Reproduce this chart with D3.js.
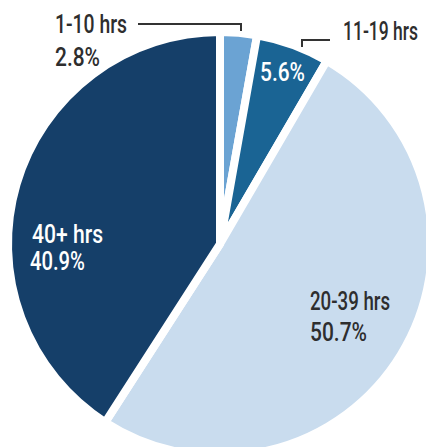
<!DOCTYPE html>
<html>
<head>
<meta charset="utf-8">
<script src="https://cdn.jsdelivr.net/npm/d3@7"></script>
<style>
  html, body { margin: 0; padding: 0; background: #fff; }
  svg { display: block; }
  text { font-family: Roboto, "Liberation Sans", sans-serif; font-weight: 500; font-size: 25.5px; }
</style>
</head>
<body>
<svg id="chart" width="426" height="447"></svg>
<script>
const categories = ["1-10 hrs", "11-19 hrs", "20-39 hrs", "40+ hrs"];
const values = [2.8, 5.6, 50.7, 40.9];
const percentLabels = ["2.8%", "5.6%", "50.7%", "40.9%"];
const colors = ["#6ba3d3", "#1a6494", "#c9dcee", "#153f69"];

const svg = d3.select("#chart");
const cx = 220, cy = 244, R = 212;

const data = categories.map((c, i) => ({ cat: c, value: values[i], pct: percentLabels[i], color: colors[i] }));

const pie = d3.pie().sort(null).value(d => d.value);
const arc = d3.arc().innerRadius(0).outerRadius(R);
const arcs = pie(data);

const g = svg.append("g").attr("transform", `translate(${cx},${cy})`);
g.selectAll("path")
  .data(arcs)
  .join("path")
  .attr("d", arc)
  .attr("fill", d => d.data.color)
  .attr("stroke", "#fff")
  .attr("stroke-width", 8)
  .attr("stroke-linejoin", "miter");

// Leader lines
const lines = svg.append("g").attr("fill", "none").attr("stroke", "#333").attr("stroke-width", 2);
lines.append("path").attr("d", "M138,24 H241 V31");
lines.append("path").attr("d", "M330,40 H302 V47");

const dark = "#2e2e2e";
// condensed look: fit each label to the width it has in the reference
function label(x, y, txt, fill, w) {
  svg.append("text").attr("x", x).attr("y", y).attr("fill", fill)
    .attr("textLength", w).attr("lengthAdjust", "spacingAndGlyphs")
    .text(txt);
}
// 1-10 hrs
label(55, 33, data[0].cat, dark, 72);
label(55, 66, data[0].pct, dark, 45);
// 11-19 hrs
label(343, 40, data[1].cat, dark, 75);
label(260, 81, data[1].pct, "#fff", 45);
// 20-39 hrs
label(310, 310, data[2].cat, dark, 80);
label(310, 341, data[2].pct, dark, 57);
// 40+ hrs
label(32, 243, data[3].cat, "#fff", 71);
label(30, 270, data[3].pct, "#fff", 55);
</script>
</body>
</html>
